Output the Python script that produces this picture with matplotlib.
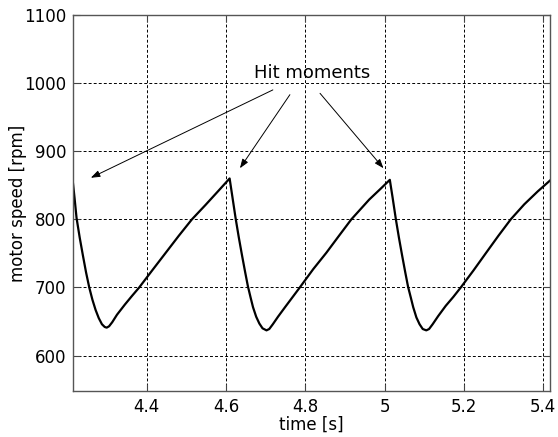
import matplotlib
matplotlib.use('Agg')
import matplotlib.pyplot as plt

# readings: time [s] and motor speed [rpm]
time_s = [4.214, 4.218, 4.223, 4.231, 4.239, 4.247, 4.255, 4.263, 4.271, 4.279,
          4.287, 4.294, 4.299, 4.305, 4.313, 4.325, 4.345, 4.362, 4.381, 4.415,
          4.448, 4.481, 4.514, 4.548, 4.581, 4.609,
          4.616, 4.624, 4.632, 4.640, 4.648, 4.655, 4.662, 4.668, 4.676,
          4.684, 4.692, 4.702, 4.709, 4.718, 4.731, 4.750, 4.768, 4.786, 4.820,
          4.853, 4.885, 4.916, 4.961, 4.990, 5.013,
          5.020, 5.028, 5.036, 5.044, 5.052, 5.059, 5.066, 5.072, 5.080,
          5.088, 5.096, 5.105, 5.112, 5.121, 5.135, 5.154, 5.173, 5.192, 5.224,
          5.256, 5.287, 5.318, 5.352, 5.386, 5.417]
speed_rpm = [853, 831, 802, 773, 747, 722, 700, 682, 667, 655,
             646, 642, 641, 643, 649, 660, 675, 687, 700, 726,
             751, 776, 800, 821, 842, 860,
             833, 802, 774, 748, 723, 702, 685, 671, 657,
             647, 640, 637, 639, 646, 657, 672, 686, 700, 727,
             751, 776, 800, 829, 845, 858,
             832, 801, 773, 747, 722, 701, 685, 671, 656,
             646, 639, 637, 639, 646, 658, 673, 686, 700, 725,
             751, 776, 800, 822, 841, 857]

# hit moments: arrow tips and where each arrow starts
hit_t = [4.259, 4.635, 4.997]
hit_v = [861, 875, 875]
tail_t = [4.718, 4.761, 4.837]
tail_v = [990, 983, 985]

x_ticks = [4.4, 4.6, 4.8, 5.0, 5.2, 5.4]
x_labels = ['4.4', '4.6', '4.8', '5', '5.2', '5.4']
y_ticks = [600, 700, 800, 900, 1000, 1100]

fig = plt.figure(figsize=(5.58, 4.37), dpi=100)
ax = fig.add_axes([0.1308, 0.1053, 0.8549, 0.8604])

ax.plot(time_s, speed_rpm, color='black', linewidth=1.6)

ax.set_xlim(4.214, 5.417)
ax.set_ylim(548, 1100)
ax.set_xticks(x_ticks)
ax.set_xticklabels(x_labels)
ax.set_yticks(y_ticks)

ax.grid(True, color='black', linestyle=(0, (3, 2.2)), linewidth=0.7)
ax.tick_params(direction='in', length=5, width=0.8, color='#444444',
               top=True, right=True, labelsize=12, pad=5)
for sp in ax.spines.values():
    sp.set_color('#555555')
    sp.set_linewidth(1.0)

ax.set_xlabel('time [s]', fontsize=12, labelpad=0)
ax.set_ylabel('motor speed [rpm]', fontsize=12, labelpad=-2)

ax.text(4.817, 1007, 'Hit moments', fontsize=13, ha='center', va='baseline')
for tx, ty, hx, hy in zip(tail_t, tail_v, hit_t, hit_v):
    ax.annotate('', xy=(hx, hy), xytext=(tx, ty),
                arrowprops=dict(arrowstyle='-|>,head_length=0.55,head_width=0.2',
                                color='black', linewidth=0.7, shrinkA=0, shrinkB=0))

fig.savefig('out.png', dpi=100)
